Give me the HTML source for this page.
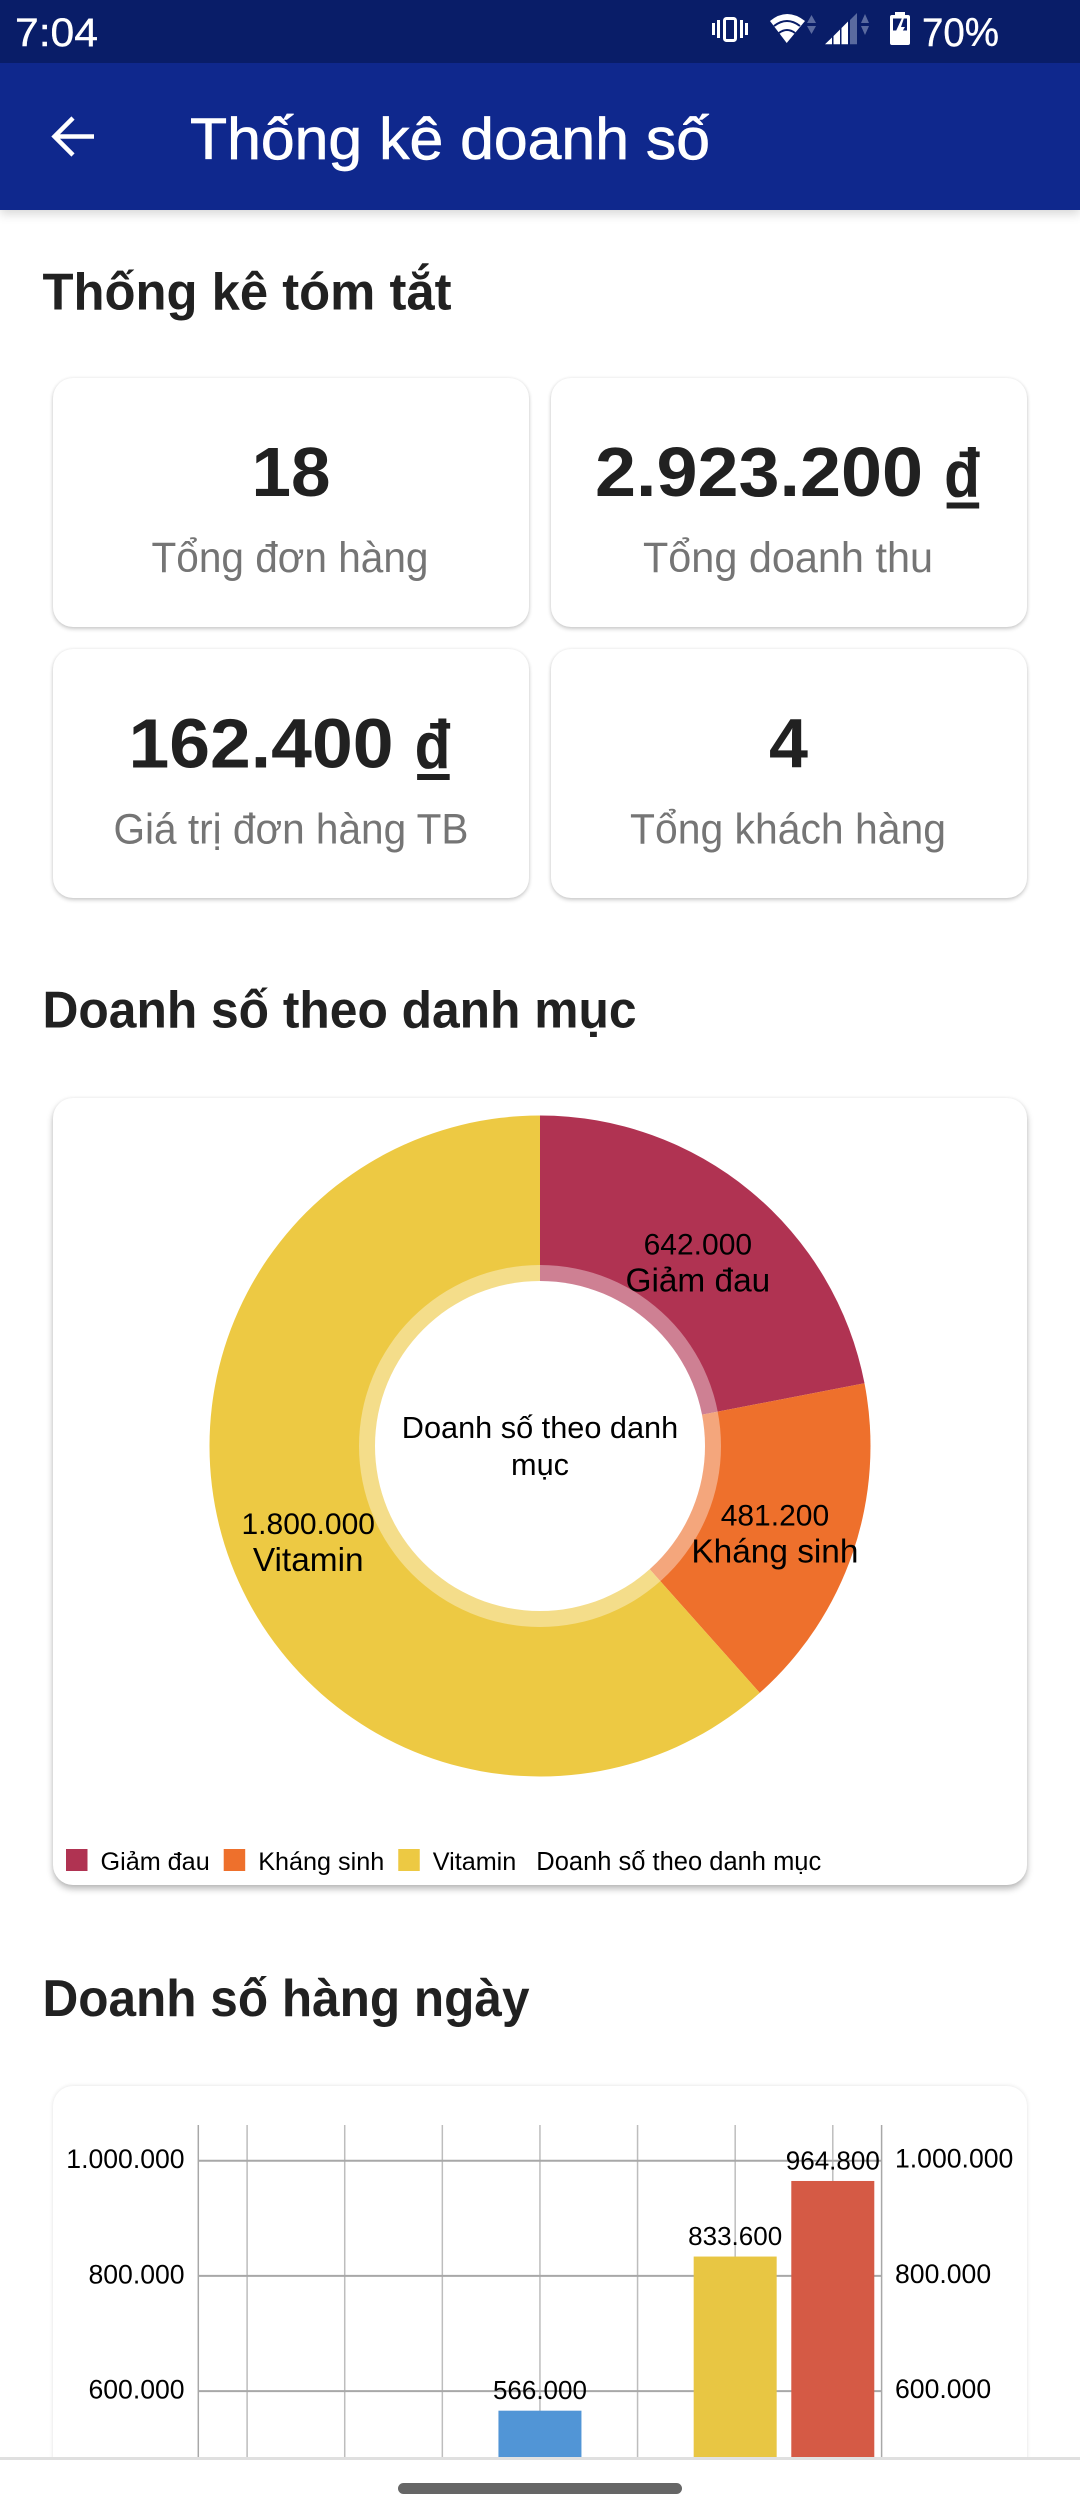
<!DOCTYPE html>
<html lang="vi">
<head>
<meta charset="utf-8">
<title>Thống kê doanh số</title>
<style>
  html,body{margin:0;padding:0;background:#fff;width:1080px;height:2520px;overflow:hidden;}
  #screen{position:relative;width:1080px;height:2520px;overflow:hidden;contain:paint;font-family:"Liberation Sans","DejaVu Sans",sans-serif;}
  svg{position:absolute;left:0;top:0;overflow:visible;display:block;}
  svg text{font-family:"Liberation Sans","DejaVu Sans",sans-serif;}
  .status{position:absolute;left:0;top:0;width:1080px;height:63px;background:#091d68;z-index:4;}
  .appbar{position:absolute;left:0;top:63px;width:1080px;height:147px;background:#0f288d;box-shadow:0 4px 10px rgba(0,0,0,.16);z-index:3;}
  .heading{position:absolute;left:0;width:1080px;height:80px;}
  .card{position:absolute;background:#fff;border-radius:20px;}
  .stat{width:476px;height:249px;box-shadow:0 2px 4px rgba(0,0,0,.2),0 0 3px rgba(0,0,0,.07);}
  .nav{position:absolute;left:0;top:2457px;width:1080px;height:63px;background:#fff;border-top:3px solid #e0e0e0;box-sizing:border-box;z-index:5;}
  .handle{position:absolute;left:398px;top:23px;width:284px;height:11px;border-radius:6px;background:#666;}
</style>
</head>
<body>
<div id="screen">

<div class="status">
  <svg width="1080" height="63">
    <text x="15" y="46" font-size="40" fill="#fff" stroke="#fff" stroke-width=".4" textLength="83" lengthAdjust="spacingAndGlyphs">7:04</text>
    <g fill="#fff">
      <rect x="724.5" y="18.5" width="11" height="22" rx="2" fill="none" stroke="#fff" stroke-width="3"/>
      <rect x="712" y="23" width="3" height="12"/><rect x="717" y="20" width="3" height="18"/>
      <rect x="740" y="20" width="3" height="18"/><rect x="745" y="23" width="3" height="12"/>
    </g>
    <g>
      <path d="M786.7 43 L770 21 Q787 7 805 21 Z" fill="#fff"/>
      <path d="M774 26 Q787 16 800 26 M779 33 Q787 27 795 33" fill="none" stroke="#091d68" stroke-width="2"/>
      <path d="M811.5 15 L816 23 H807 Z M807 26 H816 L811.5 34 Z" fill="#5a6a9f"/>
    </g>
    <g>
      <path d="M825 44.3 L832 37.5 V44.3 Z M833.5 36 L840 29.5 V44.3 H833.5 Z M841.5 28 L848 21.5 V44.3 H841.5 Z" fill="#fff"/>
      <path d="M850 20 L857 13 V44.3 H850 Z" fill="#5a6a9f"/>
      <path d="M865 14 L869 23 H861 Z M861 26 H869 L865 35 Z" fill="#5a6a9f"/>
    </g>
    <g>
      <path d="M895 15 V12 H905 V15 H908 Q910 15 910 17 V43 Q910 45 908 45 H892 Q890 45 890 43 V17 Q890 15 892 15 Z" fill="#fff"/>
      <rect x="893" y="18.500" width="14" height="12" fill="#091d68"/>
      <path d="M902 18 L896 31 H899.500 L897 40 L905 27 H901 L904 18 Z" fill="#fff"/>
    </g>
    <text x="922" y="46" font-size="40" fill="#fff" stroke="#fff" stroke-width=".4" textLength="77" lengthAdjust="spacingAndGlyphs">70%</text>
  </svg>
</div>

<div class="appbar">
  <svg width="1080" height="147" style="top:0">
    <g>
      <path d="M94 73.500 H57 M73 55 L54.500 73.500 L73 92" fill="none" stroke="#fff" stroke-width="4.500"/>
    </g>
    <text x="190" y="96" font-size="58" fill="#fff" stroke="#fff" stroke-width=".7" textLength="520" lengthAdjust="spacingAndGlyphs">Thống kê doanh số</text>
  </svg>
</div>

<div class="heading" style="top:250px">
  <svg width="1080" height="80"><text x="42.500" y="59.500" font-size="52" font-weight="700" fill="#212121" textLength="409" lengthAdjust="spacingAndGlyphs">Thống kê tóm tắt</text></svg>
</div>

<div class="card stat" style="left:53px;top:378px">
  <svg width="476" height="249">
    <text x="238" y="118" font-size="70" font-weight="700" fill="#212121" text-anchor="middle" textLength="79" lengthAdjust="spacingAndGlyphs">18</text>
    <text x="237" y="194" font-size="43" fill="#757575" text-anchor="middle" textLength="277" lengthAdjust="spacingAndGlyphs">Tổng đơn hàng</text>
  </svg>
</div>
<div class="card stat" style="left:551px;top:378px">
  <svg width="476" height="249">
    <text x="44" y="118" font-size="70" font-weight="700" fill="#212121" textLength="328" lengthAdjust="spacingAndGlyphs">2.923.200</text>
    <text x="411.500" y="139.500" font-size="97" font-weight="700" fill="#212121" text-anchor="middle" textLength="42" lengthAdjust="spacingAndGlyphs">₫</text>
    <text x="237" y="194" font-size="43" fill="#757575" text-anchor="middle" textLength="290" lengthAdjust="spacingAndGlyphs">Tổng doanh thu</text>
  </svg>
</div>
<div class="card stat" style="left:53px;top:649px">
  <svg width="476" height="249">
    <text x="75.500" y="118.500" font-size="70" font-weight="700" fill="#212121" textLength="265" lengthAdjust="spacingAndGlyphs">162.400</text>
    <text x="380" y="140" font-size="97" font-weight="700" fill="#212121" text-anchor="middle" textLength="42" lengthAdjust="spacingAndGlyphs">₫</text>
    <text x="238" y="194.500" font-size="43" fill="#757575" text-anchor="middle" textLength="355" lengthAdjust="spacingAndGlyphs">Giá trị đơn hàng TB</text>
  </svg>
</div>
<div class="card stat" style="left:551px;top:649px">
  <svg width="476" height="249">
    <text x="237.500" y="118.500" font-size="70" font-weight="700" fill="#212121" text-anchor="middle" textLength="39" lengthAdjust="spacingAndGlyphs">4</text>
    <text x="237" y="194.500" font-size="43" fill="#757575" text-anchor="middle" textLength="316" lengthAdjust="spacingAndGlyphs">Tổng khách hàng</text>
  </svg>
</div>

<div class="heading" style="top:968px">
  <svg width="1080" height="80"><text x="42.500" y="59.500" font-size="52" font-weight="700" fill="#212121" textLength="594" lengthAdjust="spacingAndGlyphs">Doanh số theo danh mục</text></svg>
</div>

<div class="card" style="left:53px;top:1098px;width:974px;height:787px;box-shadow:0 4px 7px rgba(0,0,0,.27),0 0 3px rgba(0,0,0,.07)">
  <svg id="pie-chart" width="974" height="787"></svg>
</div>

<div class="heading" style="top:1957px">
  <svg width="1080" height="80"><text x="42.500" y="59" font-size="52" font-weight="700" fill="#212121" textLength="487" lengthAdjust="spacingAndGlyphs">Doanh số hàng ngày</text></svg>
</div>

<div class="card" style="left:53px;top:2086px;width:974px;height:434px;box-shadow:0 0 4px rgba(0,0,0,.12);border-radius:20px 20px 0 0">
  <svg id="bar-chart" width="974" height="434" style="overflow:hidden"></svg>
</div>

<div class="nav">
  <div class="handle"></div>
</div>
</div>

<script>
const pieCategories = ['Giảm đau', 'Kháng sinh', 'Vitamin'];
const pieValues = [642000, 481200, 1800000];
const pieValueLabels = ['642.000', '481.200', '1.800.000'];
const pieTitleLines = ['Doanh số theo danh', 'mục'];
const legendTitle = 'Doanh số theo danh mục';

const barCategories = ['Ngày 1', 'Ngày 2', 'Ngày 3', 'Ngày 4', 'Ngày 5', 'Ngày 6', 'Ngày 7'];
const barValues = [0, 0, 0, 566000, 0, 833600, 964800];
const barValueLabels = ['', '', '', '566.000', '', '833.600', '964.800'];
const yTickValues = [1000000, 800000, 600000, 400000, 200000, 0];
const yTickLabels = ['1.000.000', '800.000', '600.000', '400.000', '200.000', '0'];

const SVG_NS = 'http://www.w3.org/2000/svg';
function make(parent, tag, attrs, text) {
  const el = document.createElementNS(SVG_NS, tag);
  for (const key in attrs) el.setAttribute(key, attrs[key]);
  if (text !== undefined) el.textContent = text;
  parent.appendChild(el);
  return el;
}

/* Donut chart */
(function () {
  const svg = document.getElementById('pie-chart');
  const palette = ['#b03352', '#ee702c', '#edc943'];
  const cx = 487, cy = 348, outerR = 330.5, ringR = 181, holeR = 165, labelR = 248;
  const total = pieValues.reduce(function (a, b) { return a + b; }, 0);
  const angle = function (v) { return v / total * 2 * Math.PI; };
  const pt = function (r, a) { return [cx + r * Math.sin(a), cy - r * Math.cos(a)]; };
  let start = 0;
  const mids = [];
  pieValues.forEach(function (v, i) {
    const sweep = angle(v), end = start + sweep;
    const p0 = pt(outerR, start), p1 = pt(outerR, end);
    const d = 'M' + cx + ' ' + cy + ' L' + p0[0] + ' ' + p0[1] + ' A' + outerR + ' ' + outerR + ' 0 ' + (sweep > Math.PI ? 1 : 0) + ' 1 ' + p1[0] + ' ' + p1[1] + ' Z';
    const slice = make(svg, 'path', { d: d, fill: palette[i] });
    
    
    mids.push(start + sweep / 2);
    start = end;
  });
  const ring = make(svg, 'circle', { cx: cx, cy: cy, r: ringR, fill: '#fff', 'fill-opacity': 0.38 });
  
  
  const hole = make(svg, 'circle', { cx: cx, cy: cy, r: holeR, fill: '#fff' });
  
  

  pieTitleLines.forEach(function (line, i) {
    const t = make(svg, 'text', { x: cx, y: cy - 8 + i * 37, 'font-size': 30.7, 'text-anchor': 'middle', fill: '#000' }, line);
    
    
  });

  pieValues.forEach(function (v, i) {
    const p = pt(labelR, mids[i]);
    const a = make(svg, 'text', { x: p[0], y: p[1], 'font-size': 30, 'text-anchor': 'middle', fill: '#000' }, pieValueLabels[i]);
    
    
    const b = make(svg, 'text', { x: p[0], y: p[1] + 37, 'font-size': 33.4, 'text-anchor': 'middle', fill: '#000' }, pieCategories[i]);
    
    
  });

  let lx = 13;
  const ly = 772;
  pieCategories.forEach(function (name, i) {
    const sw = make(svg, 'rect', { x: lx, y: ly - 21, width: 21.5, height: 22, fill: palette[i] });
    
    
    const t = make(svg, 'text', { x: lx + 34.5, y: ly, 'font-size': 25.2, fill: '#000' }, name);
    
    
    lx += 34.5 + t.getComputedTextLength() + 14;
  });
  const lt = make(svg, 'text', { x: lx + 6, y: ly, 'font-size': 25.5, fill: '#000' }, legendTitle);
  
  
})();

/* Bar chart: marks stop just under the navigation bar, at the screen's visible edge */
(function () {
  const svg = document.getElementById('bar-chart');
  const barColors = ['#5195d6', '#e8c643', '#d55a45', '#5195d6', '#e8c643', '#e8c643', '#d55a45'];
  const plotLeft = 145.3, plotRight = 828.6, plotTop = 39, visibleBottom = 374;
  const oneMillionY = 74.7, pxPerUnit = 115.2 / 200000, barWidth = 83;
  const step = (plotRight - plotLeft) / barCategories.length;
  const xScale = function (i) { return plotLeft + step * (i + 0.5); };
  const yScale = function (v) { return oneMillionY + (1000000 - v) * pxPerUnit; };

  barCategories.forEach(function (c, i) {
    const l = make(svg, 'line', { x1: xScale(i), x2: xScale(i), y1: plotTop, y2: visibleBottom, stroke: '#bdbdbd', 'stroke-width': 1.5 });
    
    
  });
  yTickValues.forEach(function (v, i) {
    if (yScale(v) >= visibleBottom) return;
    const g = make(svg, 'line', { x1: plotLeft, x2: plotRight, y1: yScale(v), y2: yScale(v), stroke: '#a8a8a8', 'stroke-width': 2 });
    
    
    const a = make(svg, 'text', { x: 131.6, y: yScale(v) + 7.5, 'font-size': 26.6, 'text-anchor': 'end', fill: '#000' }, yTickLabels[i]);
    
    
    const b = make(svg, 'text', { x: 842, y: yScale(v) + 7, 'font-size': 26.6, fill: '#000' }, yTickLabels[i]);
    
    
  });
  [plotLeft, plotRight].forEach(function (x) {
    const l = make(svg, 'line', { x1: x, x2: x, y1: plotTop, y2: visibleBottom, stroke: '#a8a8a8', 'stroke-width': 1.5 });
    
    
  });
  barValues.forEach(function (v, i) {
    if (yScale(v) >= visibleBottom) return;
    const bar = make(svg, 'rect', { x: xScale(i) - barWidth / 2, y: yScale(v), width: barWidth, height: visibleBottom - yScale(v), fill: barColors[i] });
    
    
    if (barValueLabels[i]) {
      const t = make(svg, 'text', { x: xScale(i), y: yScale(v) - 11.7, 'font-size': 26, 'text-anchor': 'middle', fill: '#000' }, barValueLabels[i]);
      
      
    }
  });
})();
</script>
</body>
</html>
